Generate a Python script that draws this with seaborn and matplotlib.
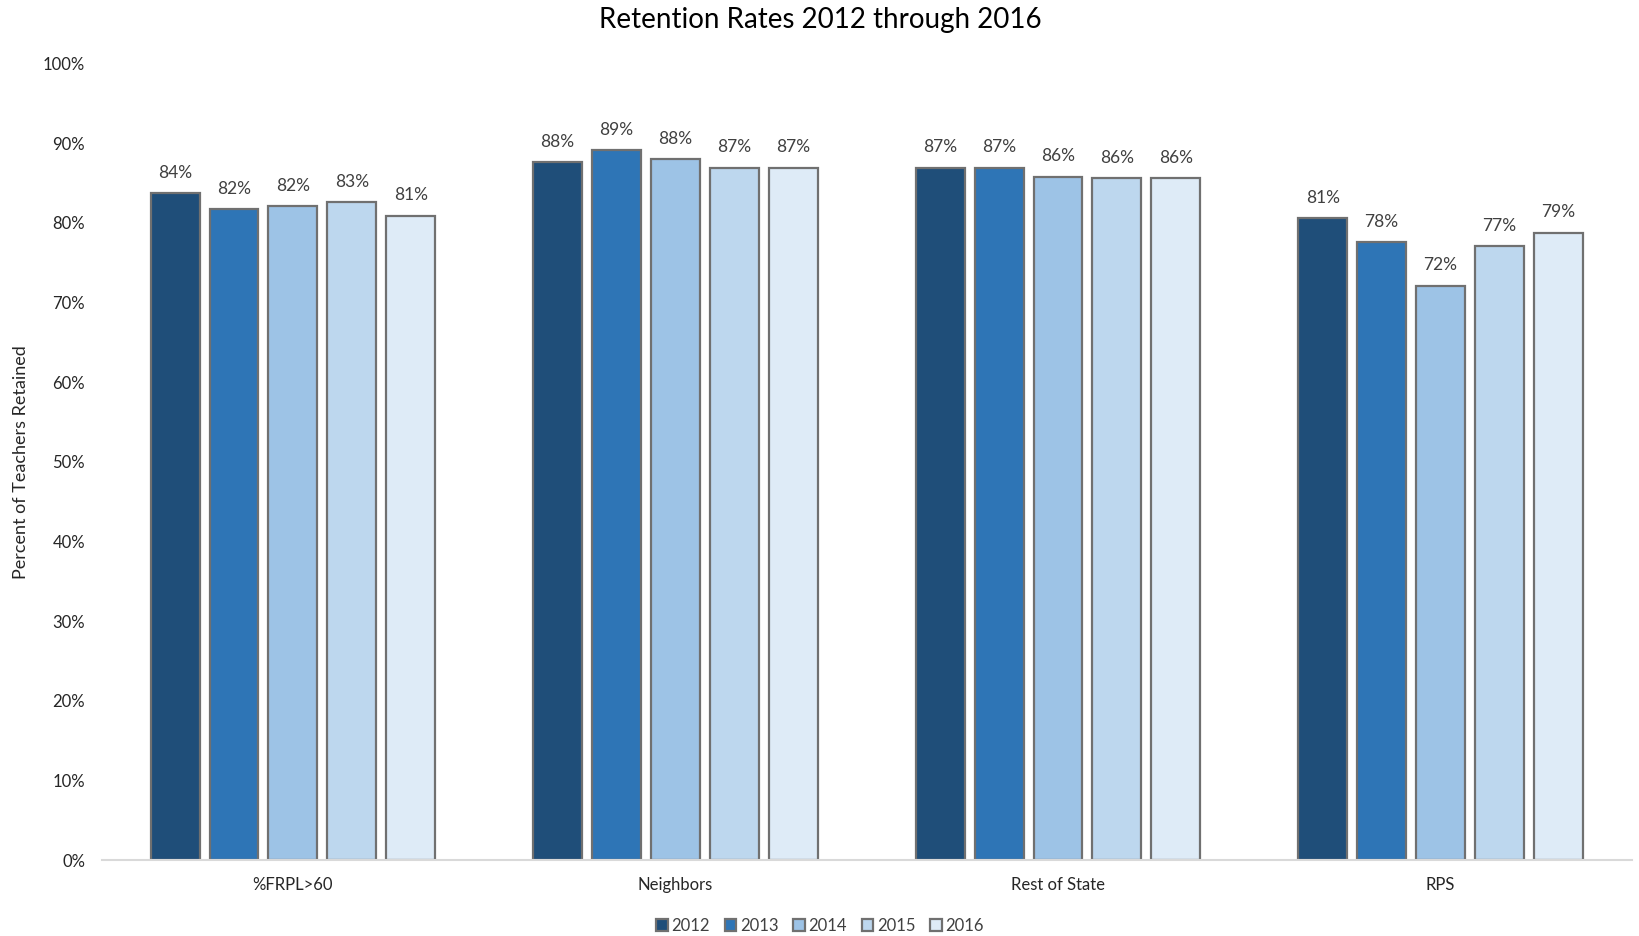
import matplotlib
matplotlib.use("Agg")
import matplotlib.pyplot as plt
import seaborn as sns
import pandas as pd
from matplotlib.ticker import PercentFormatter

# Retention rates (percent of teachers retained) by group and year
groups = ["%FRPL>60", "Neighbors", "Rest of State", "RPS"]
years = ["2012", "2013", "2014", "2015", "2016"]
rate_2012 = [83.7, 87.6, 86.9, 80.6]
rate_2013 = [81.7, 89.1, 86.9, 77.6]
rate_2014 = [82.1, 88.0, 85.8, 72.1]
rate_2015 = [82.6, 86.9, 85.6, 77.1]
rate_2016 = [80.9, 86.9, 85.6, 78.8]

colors = ["#1F4E79", "#2E75B6", "#9DC3E6", "#BDD7EE", "#DEEBF7"]

rows = []
for year, series in zip(years, [rate_2012, rate_2013, rate_2014, rate_2015, rate_2016]):
    for g, v in zip(groups, series):
        rows.append({"group": g, "year": year, "rate": v})
df = pd.DataFrame(rows)

sns.set_theme(style="white")
plt.rcParams["font.family"] = ["Lato", "DejaVu Sans"]

fig = plt.figure(figsize=(16.4, 9.36), dpi=100)
ax = fig.add_axes([0.062, 0.081, 0.933, 0.851])

sns.barplot(
    data=df, x="group", y="rate", hue="year", order=groups, hue_order=years,
    palette=colors, saturation=1, width=0.77, gap=0.17, edgecolor="#707070",
    linewidth=1.6, errorbar=None, ax=ax,
)

for cont in ax.containers:
    ax.bar_label(cont, fmt=lambda v: f"{v:.0f}%", padding=9, fontsize=12.5,
                 color="#404040")

ax.set_ylim(0, 100)
ax.set_yticks(range(0, 101, 10))
ax.yaxis.set_major_formatter(PercentFormatter(decimals=0))
ax.tick_params(axis="y", labelsize=12, colors="#262626", pad=12, length=0)
ax.tick_params(axis="x", labelsize=12, colors="#262626", pad=12, length=0)
ax.set_xlabel("")
ax.set_ylabel("Percent of Teachers Retained", fontsize=13, color="#262626", labelpad=10)
ax.set_xlim(-0.5, 3.5)

for side in ["top", "right", "left"]:
    ax.spines[side].set_visible(False)
ax.spines["bottom"].set_color("#D9D9D9")
ax.spines["bottom"].set_linewidth(1.5)
ax.grid(False)

fig.suptitle("Retention Rates 2012 through 2016", fontsize=20, color="#000000",
             x=0.5, y=0.992, va="top")

handles, labels = ax.get_legend_handles_labels()
ax.get_legend().remove()
fig.legend(handles, labels, loc="lower center", bbox_to_anchor=(0.5, -0.014), ncol=5,
           frameon=False, fontsize=12, handlelength=0.7, handleheight=0.7,
           handletextpad=0.2, columnspacing=0.9, labelcolor="#404040")

fig.savefig("out.png", dpi=100)
